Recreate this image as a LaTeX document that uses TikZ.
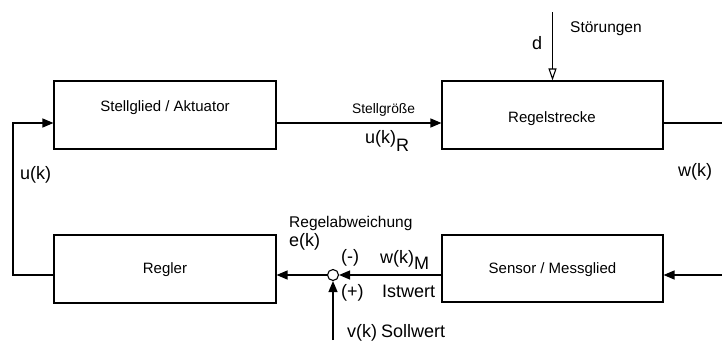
\documentclass[tikz,border=0pt]{standalone}
\usepackage{fontspec}
\setmainfont{Liberation Sans}
\usetikzlibrary{arrows.meta}

\begin{document}
\begin{tikzpicture}[x=1pt,y=-1pt,
  box/.style={draw, line width=1.1pt, minimum width=222pt, minimum height=68pt, inner sep=0pt},
  boxtext/.style={font=\fontsize{15}{18}\selectfont, inner sep=0pt, anchor=base},
  note/.style={font=\fontsize{15.5}{18}\selectfont, inner sep=0pt, anchor=base west},
  smallnote/.style={font=\fontsize{13.8}{16}\selectfont, inner sep=0pt, anchor=base west},
  sig/.style={font=\fontsize{18}{20}\selectfont, inner sep=0pt, anchor=base west},
  wire/.style={line width=1.2pt},
  flow/.style={wire, -{Triangle[length=11pt,width=9pt]}},
  dist/.style={wire, -{Triangle[open,length=12pt,width=8pt,line width=1.1pt]}},
  junction/.style={draw, line width=1.1pt, circle, minimum size=11pt, inner sep=0pt}
]
\useasboundingbox (0,0) rectangle (722,340);

% blocks of the loop
\node[box] (act)   at (165,115)   {};
\node[box, minimum width=221pt] (plant) at (552.5,115) {};
\node[box] (ctrl)  at (165,269)   {};
\node[box, minimum width=221pt, minimum height=67pt] (sens) at (552.5,268.5) {};
\node[junction] (sum) at (333,275) {};

\node[boxtext] (actT)   at (165,111)   {Stellglied / Aktuator};
\node[boxtext] (plantT) at (552,122.5) {Regelstrecke};
\node[boxtext] (ctrlT)  at (165,273)   {Regler};
\node[boxtext] (sensT)  at (552.5,273) {Sensor / Messglied};

% free ends of the loop
\coordinate (lb)   at (13,275);
\coordinate (lt)   at (13,123);
\coordinate (outR) at (722,123);
\coordinate (inR)  at (722,275);
\coordinate (setp) at (333,340);
\coordinate (dsrc) at (552.5,12);

% connectors
\draw[flow] ([yshift=-8pt]act.east) -- ([yshift=-8pt]plant.west);
\draw[wire] ([yshift=-8pt]plant.east) -- (outR);
\draw[flow] (inR) -- ([yshift=-6.5pt]sens.east);
\draw[flow] ([yshift=-6.5pt]sens.west) -- (sum.east);
\draw[flow] (sum.west) -- ([yshift=-6pt]ctrl.east);
\draw[flow] ([yshift=-6pt]ctrl.west) -- (lb) -- (lt) -- ([yshift=-8pt]act.west);
\draw[flow] (setp) -- (sum.south);
\draw[dist] (dsrc) -- (plant.north);

% signal labels
\node[sig] (uk)   at (20,179)  {u(k)};
\node[smallnote] (sg) at (352,113) {Stellgröße};
\node[sig] (ukR)  at (365,143) {u(k)\raisebox{-8.5pt}{R}};
\node[sig] (d)    at (532,49)  {d};
\node[note] (stoer) at (570,32.5) {Störungen};
\node[sig] (wk)   at (678,176) {w(k)};
\node[note] (ra)  at (289,227) {Regelabweichung};
\node[sig] (ek)   at (289,246) {e(k)};
\node[sig] (minus) at (341,262) {(-)};
\node[sig] (wkM)  at (380,263) {w(k)\raisebox{-6pt}{M}};
\node[sig] (ist)  at (382,297) {Istwert};
\node[sig] (plus) at (341,297) {(+)};
\node[sig] (vk)   at (347,337) {v(k)};
\node[sig] (soll) at (381,337) {Sollwert};
\end{tikzpicture}
\end{document}
